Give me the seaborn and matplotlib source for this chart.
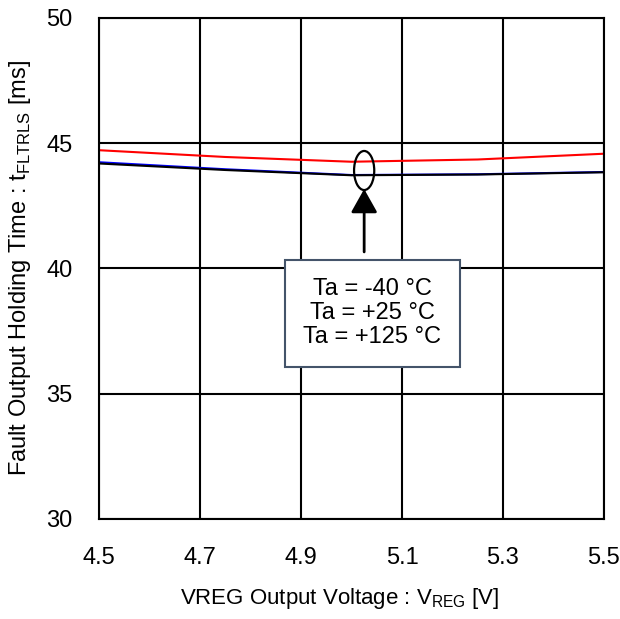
import numpy as np
import pandas as pd
import matplotlib
matplotlib.use("Agg")
import matplotlib.pyplot as plt
from matplotlib.patches import Ellipse, Rectangle
import seaborn as sns

sns.set_style("white")
plt.rcParams['font.family'] = ['Liberation Sans', 'DejaVu Sans']
plt.rcParams['text.color'] = 'black'
plt.rcParams['axes.labelcolor'] = 'black'
plt.rcParams['xtick.color'] = 'black'
plt.rcParams['ytick.color'] = 'black'

vreg = [4.5, 4.75, 5.0, 5.25, 5.5]
t_m40 = [44.24, 43.96, 43.73, 43.76, 43.85]
t_p25 = [44.19, 43.93, 43.72, 43.75, 43.84]
t_p125 = [44.72, 44.45, 44.26, 44.35, 44.58]

df = pd.DataFrame({
    "vreg": vreg * 3,
    "t": t_m40 + t_p25 + t_p125,
    "temp": ["-40"] * 5 + ["+25"] * 5 + ["+125"] * 5,
})

fig = plt.figure(figsize=(6.2, 6.19), dpi=100)
ax = fig.add_axes([0.16, 0.1616, 0.814, 0.8094])

sns.lineplot(data=df, x="vreg", y="t", hue="temp",
             palette={"-40": "blue", "+25": "black", "+125": "red"},
             hue_order=["-40", "+125", "+25"], linewidth=1.5,
             legend=False, ax=ax)

ax.set_xlim(4.5, 5.5)
ax.set_ylim(30, 50)
ax.set_xticks([4.5, 4.7, 4.9, 5.1, 5.3, 5.5])
ax.set_yticks([30, 35, 40, 45, 50])
ax.grid(True, color="black", linewidth=1.5)
ax.set_axisbelow(True)
for s in ax.spines.values():
    s.set_color("black")
    s.set_linewidth(1.5)
ax.tick_params(labelsize=17, length=0)
ax.tick_params(axis="x", pad=20)
ax.tick_params(axis="y", pad=19)

ax.set_xlabel("VREG Output Voltage : V$_{\\mathregular{REG}}$ [V]", fontsize=16)
ax.set_ylabel("Fault Output Holding Time : t$_{\\mathregular{FLTRLS}}$ [ms]", fontsize=17)
ax.xaxis.set_label_coords(0.477, -0.158)
ax.xaxis.label.set_va("center")
ax.yaxis.set_label_coords(-0.156, 0.5)
ax.yaxis.label.set_va("center")

ax.add_patch(Ellipse((5.025, 43.91), 0.04, 1.56, fill=False, edgecolor="black", linewidth=1.6, zorder=5))
ax.annotate("", xy=(5.025, 43.17), xytext=(5.025, 40.66),
            arrowprops=dict(arrowstyle="-|>,head_length=0.8,head_width=0.45", color="black", lw=2,
                            mutation_scale=18, shrinkA=0, shrinkB=0))
ax.add_patch(Rectangle((4.868, 36.07), 0.347, 4.27, facecolor="white", edgecolor="#44546a",
                       linewidth=1.5, zorder=6))
ax.text(5.041, 38.22, "Ta = -40 °C\nTa = +25 °C\nTa = +125 °C", fontsize=17,
        ha="center", va="center", linespacing=1.1, zorder=7)

fig.savefig("out.png", dpi=100)
